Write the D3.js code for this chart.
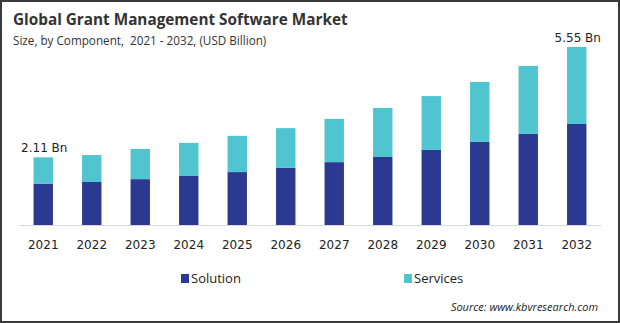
<!DOCTYPE html>
<html><head><meta charset="utf-8">
<script src="https://cdn.jsdelivr.net/npm/d3@7"></script>
<style>html,body{margin:0;padding:0;background:#fff;}svg{display:block;}text{white-space:pre;}</style>
</head><body>
<script>
const years = ["2021","2022","2023","2024","2025","2026","2027","2028","2029","2030","2031","2032"];
const solution = [1.29,1.34,1.43,1.53,1.65,1.78,1.96,2.12,2.34,2.59,2.84,3.15];
const services = [0.82,0.84,0.94,1.03,1.13,1.24,1.35,1.53,1.68,1.87,2.12,2.40];
const seriesNames = ["Solution","Services"];
const colors = ["#2b3990","#50c4cf"];
const endLabels = [{year:"2021", text:"2.11 Bn", total:2.11},{year:"2032", text:"5.55 Bn", total:5.55}];

const W=620,H=323;
const svg=d3.select("body").append("svg").attr("width",W).attr("height",H);
svg.append("rect").attr("x",1).attr("y",1).attr("width",W-2).attr("height",H-2)
  .attr("fill","#fff").attr("stroke","#3a3a3a").attr("stroke-width",2);

svg.append("text").attr("x",13).attr("y",25).text("Global Grant Management Software Market")
  .attr("font-family","Open Sans").attr("font-weight","bold").attr("font-size",15.3).attr("fill","#333");
svg.append("text").attr("x",13).attr("y",45).text("Size, by Component,  2021 - 2032, (USD Billion)")
  .attr("font-family","Open Sans").attr("font-size",11.7).attr("fill","#333");

const x=d3.scaleBand().domain(years).range([19,601]).paddingInner(0.6).paddingOuter(0.3);
const y=d3.scaleLinear().domain([0,5.55]).range([225,47]);

const data=years.map((yr,i)=>({year:yr,Solution:solution[i],Services:services[i]}));
const stack=d3.stack().keys(seriesNames)(data);

svg.append("g").selectAll("g").data(stack).join("g").attr("fill",(d,i)=>colors[i])
  .selectAll("rect").data(d=>d).join("rect")
  .attr("x",d=>x(d.data.year)).attr("width",x.bandwidth())
  .attr("y",d=>y(d[1])).attr("height",d=>y(d[0])-y(d[1]));

const ax=svg.append("g").attr("transform","translate(0,225)")
  .call(d3.axisBottom(x).tickSize(0).tickPadding(15));
ax.select(".domain").attr("stroke","#d9d9d9").attr("stroke-width",1.2);
ax.selectAll("text").attr("font-family","DejaVu Sans").attr("font-size",12).attr("fill","#222");

svg.selectAll(".endlab").data(endLabels).join("text")
  .attr("x",d=>x(d.year)+x.bandwidth()/2+1).attr("y",d=>y(d.total)-5)
  .attr("text-anchor","middle").attr("font-family","DejaVu Sans").attr("font-size",12).attr("fill","#222")
  .text(d=>d.text);

const legX=[181,404];
const lg=svg.append("g").selectAll("g").data(seriesNames).join("g")
  .attr("transform",(d,i)=>`translate(${legX[i]},274)`);
lg.append("rect").attr("width",8).attr("height",9).attr("fill",(d,i)=>colors[i]);
lg.append("text").attr("x",10).attr("y",9).text(d=>d)
  .attr("font-family","Open Sans").attr("font-size",13).attr("fill","#222");

svg.append("text").attr("x",598).attr("y",311).attr("text-anchor","end")
  .text("Source: www.kbvresearch.com").attr("font-family","Open Sans").attr("font-style","italic")
  .attr("font-size",11).attr("fill","#222");
</script>
</body></html>
